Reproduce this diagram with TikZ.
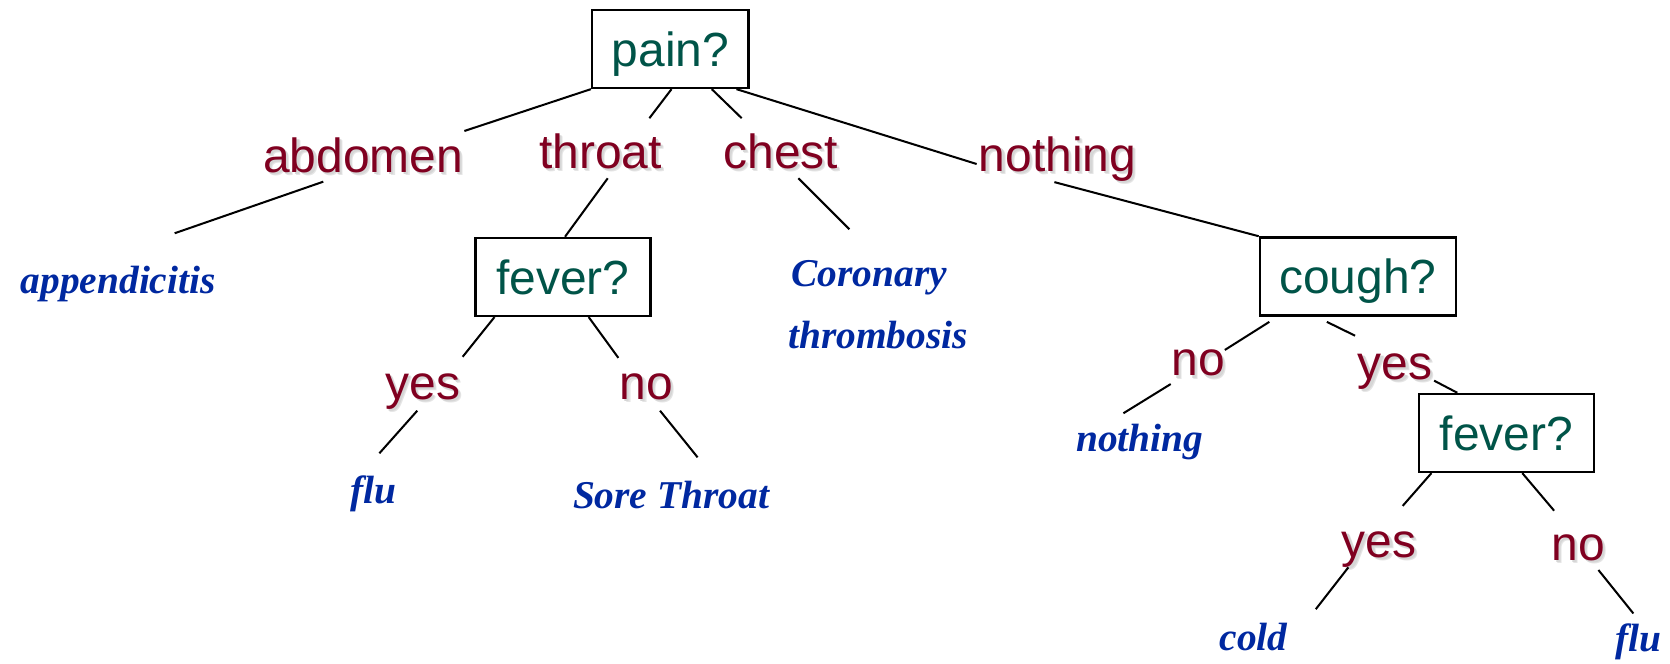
\documentclass[tikz,border=0pt]{standalone}
\usepackage{fontspec}
\usetikzlibrary{calc}
\newfontfamily\arialish{Liberation Sans}
\newfontfamily\leafserif{Liberation Serif}
\definecolor{labelred}{RGB}{128,0,32}
\definecolor{qteal}{RGB}{0,84,72}
\definecolor{leafblue}{RGB}{0,40,160}
\definecolor{shadefar}{gray}{0.90}
\definecolor{shadenear}{gray}{0.84}
% branch labels carry a soft grey drop shadow
\newcommand\softshadow[1]{\leavevmode
  \rlap{\kern3pt\raisebox{-3pt}{\textcolor{shadefar}{#1}}}%
  \rlap{\kern2pt\raisebox{-2pt}{\textcolor{shadenear}{#1}}}#1}
\begin{document}
\begin{tikzpicture}[x=1pt,y=-1pt,
  question/.style={draw=black, line width=2.4pt, fill=white,
    minimum width=#1, minimum height=73pt, inner sep=0pt,
    text height=33pt, text depth=0pt, text=qteal,
    font=\arialish\fontsize{45}{54}\selectfont},
  branch/.style={anchor=base, inner sep=0pt, text=labelred,
    font=\arialish\fontsize{45}{54}\selectfont},
  leaf/.style={anchor=base, inner sep=0pt, text=leafblue,
    font=\leafserif\fontsize{37}{44}\selectfont\bfseries\itshape},
  edge/.style={line width=1.9pt, draw=black}]
\useasboundingbox (0,0) rectangle (1568,623);

% decision boxes
\node[question=147pt] (pain)  at (629.5,46)   {pain?};
\node[question=164pt] (fev1)  at (528.5,260)  {fever?};
\node[question=184pt] (cough) at (1275,259.5) {cough?};
\node[question=164pt] (fev2)  at (1414.5,406.5) {fever?};

% branch values
\node[branch] (abd)   at (341,162)  {\softshadow{abdomen}};
\node[branch] (thr)   at (564,158)  {\softshadow{throat}};
\node[branch] (chest) at (733,158)  {\softshadow{chest}};
\node[branch] (noth)  at (993,161)  {\softshadow{nothing}};
\node[branch] (yes1)  at (397,375)  {\softshadow{yes}};
\node[branch] (no1)   at (607,375)  {\softshadow{no}};
\node[branch] (no2)   at (1125,353) {\softshadow{no}};
\node[branch] (yes2)  at (1310,356) {\softshadow{yes}};
\node[branch] (yes3)  at (1295,523) {\softshadow{yes}};
\node[branch] (no3)   at (1482,526) {\softshadow{no}};

% diagnoses
\node[leaf] (app)   at (111,276)  {appendicitis};
\node[leaf, anchor=base west] (cor1) at (743,269) {Coronary};
\node[leaf, anchor=base west] (cor2) at (740,327) {thrombosis};
\node[leaf] (flu1)  at (351,473)  {flu};
\node[leaf] (sore)  at (630,477)  {Sore Throat};
\node[leaf] (nleaf) at (1070,424) {nothing};
\node[leaf] (cold)  at (1177,611) {cold};
\node[leaf] (flu2)  at (1538,612) {flu};

% connectors
\draw[edge] (pain.south west) -- ($(abd.base)+(95,-39)$);
\draw[edge] ($(abd.base)+(-37.5,8.6)$) -- ($(app.base)+(53,-57)$);
\draw[edge] ($(pain.south)+(1,0)$) -- ($(thr.base)+(45.7,-47)$);
\draw[edge] ($(pain.south)+(38.8,0)$) -- ($(chest.base)+(-36.6,-47)$);
\draw[edge] ($(pain.south)+(62,0)$) -- ($(noth.base)+(-76,-7)$);
\draw[edge] ($(noth.base)+(-3,10)$) -- (cough.north west);
\draw[edge] ($(thr.base)+(6.6,9.4)$) -- ($(fev1.north)+(2,0)$);
\draw[edge] ($(chest.base)+(16.6,9.4)$) -- ($(cor1.base west)+(54.5,-53.7)$);
\draw[edge] ($(fev1.south west)+(19,0)$) -- ($(yes1.base)+(37.4,-40)$);
\draw[edge] ($(fev1.south east)+(-59,0)$) -- ($(no1.base)+(-26.4,-39)$);
\draw[edge] ($(yes1.base)+(-5.2,10.6)$) -- ($(flu1.base)+(5.2,-47.4)$);
\draw[edge] ($(no1.base)+(12.7,10.6)$) -- ($(sore.base)+(25,-47.6)$);
\draw[edge] ($(cough.south west)+(10,5)$) -- ($(no2.base)+(25,-24.4)$);
\draw[edge] ($(cough.south west)+(64,5)$) -- ($(yes2.base)+(-37.7,-40.8)$);
\draw[edge] ($(no2.base)+(-25.8,7.6)$) -- ($(nleaf.base)+(-15.2,-36)$);
\draw[edge] ($(yes2.base)+(36.5,1.4)$) -- ($(fev2.north west)+(37,0)$);
\draw[edge] ($(fev2.south west)+(12.7,0)$) -- ($(yes3.base)+(22,-48)$);
\draw[edge] ($(fev2.south west)+(98,0)$) -- ($(no3.base)+(-22.8,-46.5)$);
\draw[edge] ($(yes3.base)+(-29,9.7)$) -- ($(cold.base)+(58.4,-39)$);
\draw[edge] ($(no3.base)+(18.8,9.2)$) -- ($(flu2.base)+(-4.4,-36)$);
\end{tikzpicture}
\end{document}
